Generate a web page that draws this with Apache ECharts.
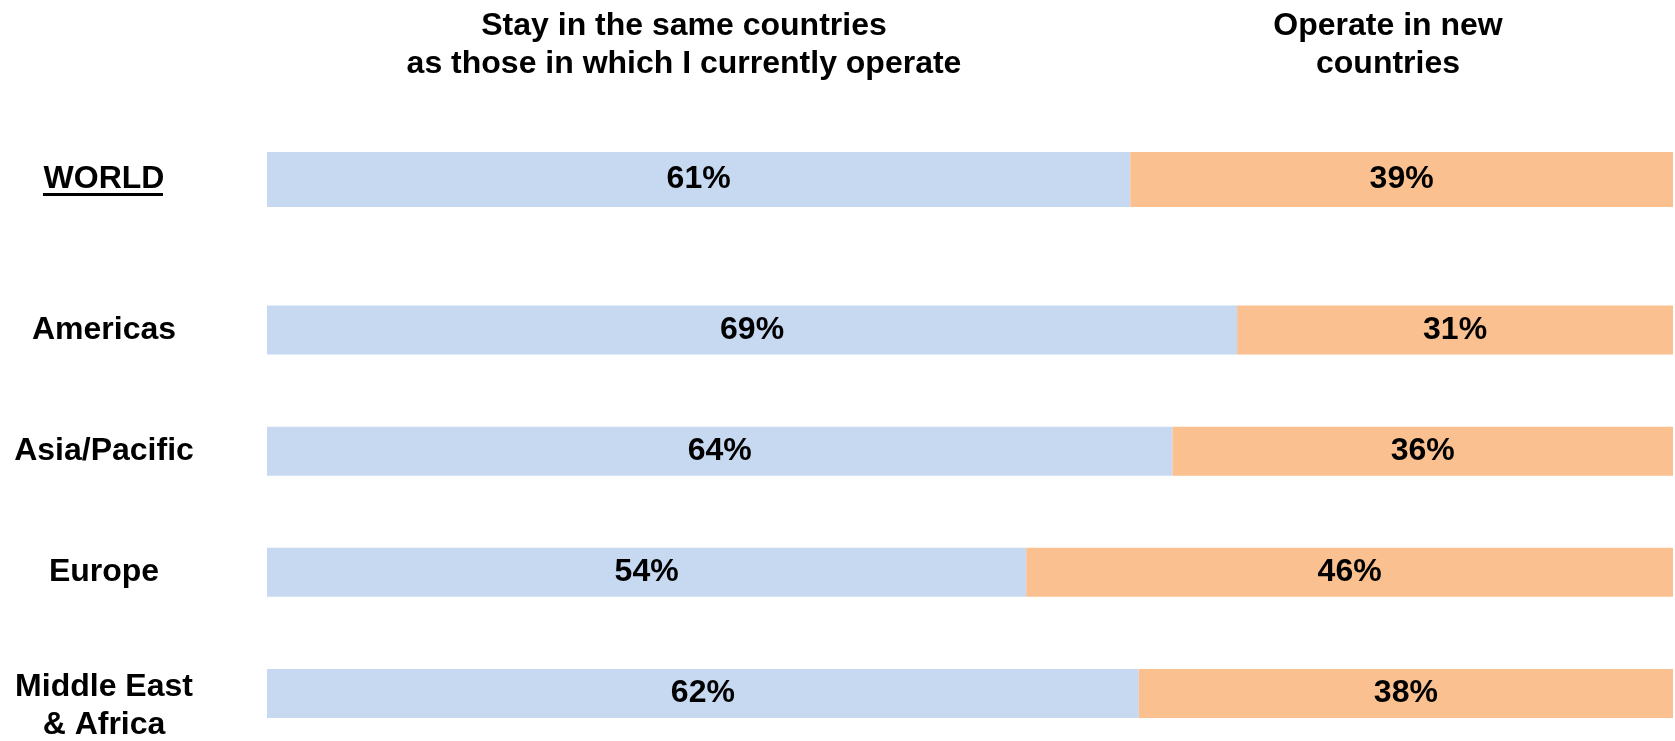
<!DOCTYPE html>
<html>
<head>
<meta charset="utf-8">
<script src="https://cdn.jsdelivr.net/npm/echarts@6/dist/echarts.min.js"></script>
<style>
  html, body { margin: 0; padding: 0; background: #ffffff; }
  #chart { width: 1675px; height: 741px; }
</style>
</head>
<body>
<div id="chart"></div>
<script>
// ---- Data ----
const worldCategory = ['WORLD'];
const worldStay = [61.4];
const worldNew = [38.6];

const regionCategories = ['Americas', 'Asia/Pacific', 'Europe', 'Middle East\n& Africa'];
const regionStay = [69, 64.4, 54, 62];
const regionNew = [31, 35.6, 46, 38];

const headerStay = 'Stay in the same countries\nas those in which I currently operate';
const headerNew = 'Operate in new\ncountries';

// ---- Styles ----
const FONT = '"Liberation Sans", Arial, Helvetica, sans-serif';
const BLUE = '#C6D9F1';
const ORANGE = '#FAC090';
const FS = 32;

const chart = echarts.init(document.getElementById('chart'));

const barLabel = {
  show: true,
  position: 'inside',
  formatter: p => Math.round(p.value) + '%',
  color: '#000',
  fontFamily: FONT,
  fontWeight: 'bold',
  fontSize: FS
};

const axisLabelStyle = {
  color: '#000',
  fontFamily: FONT,
  fontWeight: 'bold',
  fontSize: FS,
  align: 'center',
  margin: 163
};

const richLine = {
  color: '#000', fontFamily: FONT, fontWeight: 'bold', fontSize: FS,
  lineHeight: 38, align: 'center', padding: [25, 0, 0, 0]
};

const option = {
  backgroundColor: '#ffffff',
  animation: false,
  grid: [
    { left: 267, right: 2, top: 152, height: 55 },
    { left: 267, right: 2, top: 330, height: 367.5 }
  ],
  xAxis: [
    { type: 'value', gridIndex: 0, min: 0, max: 100, show: false },
    { type: 'value', gridIndex: 1, min: 0, max: 100, show: false }
  ],
  yAxis: [
    {
      type: 'category', gridIndex: 0, data: worldCategory, inverse: true,
      axisLine: { show: false }, axisTick: { show: false },
      axisLabel: Object.assign({}, axisLabelStyle, { padding: [0, 0, 5, 0] })
    },
    {
      type: 'category', gridIndex: 1, data: regionCategories, inverse: true,
      boundaryGap: false,
      axisLine: { show: false }, axisTick: { show: false },
      axisLabel: Object.assign({}, axisLabelStyle, {
        formatter: v => {
          const parts = v.split('\n');
          if (parts.length > 1) return parts.map(s => '{m|' + s + '}').join('\n');
          return v;
        },
        rich: { m: richLine }
      })
    }
  ],
  series: [
    {
      type: 'bar', name: 'Stay', xAxisIndex: 0, yAxisIndex: 0, stack: 'w',
      data: worldStay, barWidth: 55, itemStyle: { color: BLUE }, label: barLabel
    },
    {
      type: 'bar', name: 'New', xAxisIndex: 0, yAxisIndex: 0, stack: 'w',
      data: worldNew, barWidth: 55, itemStyle: { color: ORANGE }, label: barLabel
    },
    {
      type: 'bar', name: 'Stay', xAxisIndex: 1, yAxisIndex: 1, stack: 'r',
      data: regionStay, barWidth: 49, itemStyle: { color: BLUE }, label: barLabel
    },
    {
      type: 'bar', name: 'New', xAxisIndex: 1, yAxisIndex: 1, stack: 'r',
      data: regionNew, barWidth: 49, itemStyle: { color: ORANGE }, label: barLabel
    }
  ],
  graphic: [
    {
      type: 'text', x: 684, y: 45,
      style: {
        text: headerStay, fill: '#000', font: 'bold ' + FS + 'px ' + FONT,
        align: 'center', verticalAlign: 'middle', lineHeight: 38.5
      }
    },
    {
      type: 'text', x: 1388, y: 45,
      style: {
        text: headerNew, fill: '#000', font: 'bold ' + FS + 'px ' + FONT,
        align: 'center', verticalAlign: 'middle', lineHeight: 38.5
      }
    },
    {
      type: 'rect', shape: { x: 43, y: 193, width: 120, height: 3 },
      style: { fill: '#000' }
    }
  ]
};

chart.setOption(option);
</script>
</body>
</html>
